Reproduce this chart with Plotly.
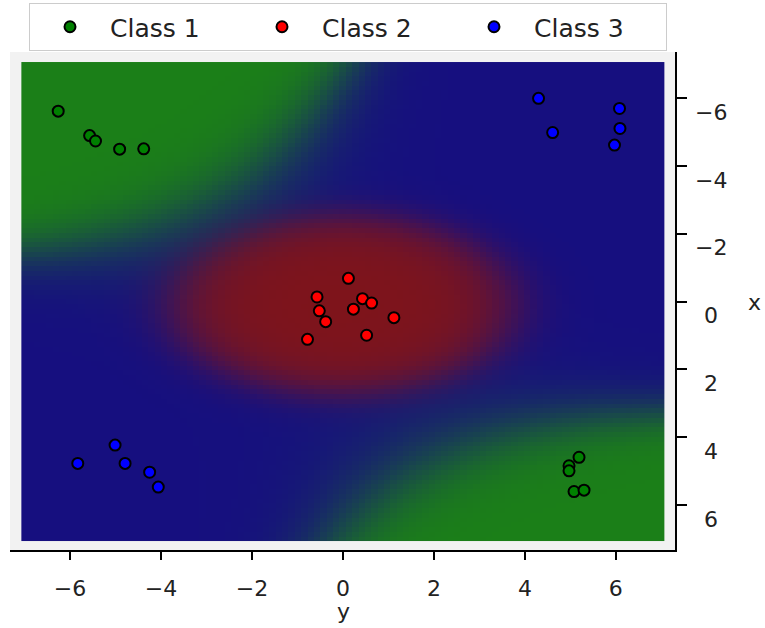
import numpy as np
import plotly.graph_objects as go

# ---- data (horizontal axis "y", vertical axis "x") ----
class1_h = [-6.26, -5.57, -5.44, -4.91, -4.38, 5.19, 4.97, 4.97, 5.08, 5.30]
class1_v = [-5.62, -4.90, -4.74, -4.50, -4.51, 4.59, 4.84, 4.99, 5.60, 5.56]
class2_h = [0.12, -0.57, -0.52, -0.38, -0.78, 0.43, 0.63, 0.23, 1.12, 0.52]
class2_v = [-0.69, -0.14, 0.27, 0.59, 1.11, -0.09, 0.04, 0.22, 0.47, 0.99]
class3_h = [4.30, 4.61, 6.08, 6.09, 5.97, -5.01, -5.83, -4.79, -4.25, -4.06]
class3_v = [-6.00, -4.99, -5.70, -5.11, -4.62, 4.23, 4.77, 4.77, 5.03, 5.47]

class_names = ["Class 1", "Class 2", "Class 3"]
tick_vals = [-6, -4, -2, 0, 2, 4, 6]
tick_text = ["\u22126", "\u22124", "\u22122", "0", "2", "4", "6"]

# decision-surface score coefficients, relative to Class 3
# green: const, h, v, h^2, v^2, h*v
green_score = [-3.55, -0.31, 0.0, -0.035, 0.081, 0.29]
# red: const, centre h, centre v, h curvature, v curvature
red_score = [3.9, 0.0, 0.1, 0.30, 0.60]
grid_min, grid_max, grid_n = -7.0, 7.0, 101

col_green = np.array([27, 127, 24])
col_red = np.array([128, 20, 25])
col_blue = np.array([22, 15, 127])

g = np.linspace(grid_min, grid_max, grid_n)
H, V = np.meshgrid(g, g)
sg = (green_score[0] + green_score[1] * H + green_score[2] * V
      + green_score[3] * H ** 2 + green_score[4] * V ** 2 + green_score[5] * H * V)
sr = red_score[0] - red_score[3] * (H - red_score[1]) ** 2 - red_score[4] * (V - red_score[2]) ** 2
sb = np.zeros_like(H)
S = np.stack([sg, sr, sb], axis=-1)
S = S - S.max(axis=-1, keepdims=True)
P = np.exp(S)
P = P / P.sum(axis=-1, keepdims=True)
img = (P[..., 0:1] * col_green + P[..., 1:2] * col_red + P[..., 2:3] * col_blue)
img = np.clip(np.round(img), 0, 255).astype(int).tolist()
step = (grid_max - grid_min) / (grid_n - 1)

FONT = "DejaVu Sans"
W, HGT = 765, 628
ML, MR, MB = 10, 90, 78
PLOT_TOP = 52  # pixel row of top of axes box
paper_h = HGT - MB
dom_top = (paper_h - PLOT_TOP) / paper_h

fig = go.Figure()
fig.add_trace(go.Image(z=img, x0=grid_min, dx=step, y0=grid_min, dy=step,
                       hoverinfo="skip"))

for name, hx, vy, fill in [(class_names[0], class1_h, class1_v, "rgb(0,128,0)"),
                           (class_names[1], class2_h, class2_v, "rgb(255,0,0)"),
                           (class_names[2], class3_h, class3_v, "rgb(0,0,255)")]:
    fig.add_trace(go.Scatter(x=hx, y=vy, mode="markers", name=name,
                             marker=dict(size=11, color=fill,
                                         line=dict(color="black", width=2))))

xr = [-7.32, 7.30]
yr = [7.325, -7.366]
common = dict(showgrid=False, zeroline=False, tickvals=tick_vals)
fig.update_layout(
    width=W, height=HGT,
    margin=dict(l=ML, r=MR, t=0, b=MB),
    paper_bgcolor="white", plot_bgcolor="#f2f2f2",
    font=dict(family=FONT, size=22, color="#222"),
    xaxis=dict(range=xr, autorange=False, scaleanchor=False, ticks="outside", ticklen=8,
               tickwidth=1.5, tickcolor="black", showline=True, linecolor="black",
               linewidth=1.5, ticktext=tick_text, tickfont=dict(size=22),
               ticklabelstandoff=10, **common),
    yaxis=dict(range=yr, autorange=False, scaleanchor=False, side="right",
               domain=[0, dom_top], ticks="outside", ticklen=10,
               tickwidth=1.5, tickcolor="black", showline=True, linecolor="black",
               linewidth=1.5, showticklabels=False, **common),
    xaxis2=dict(range=xr, overlaying="x", side="top", anchor="y", ticks="inside",
                ticklen=10, tickwidth=1.2, tickcolor="#cfcfcf", showticklabels=False,
                showline=False, **common),
    yaxis2=dict(range=yr, overlaying="y", side="left", anchor="x", ticks="inside",
                ticklen=10, tickwidth=1.2, tickcolor="#cfcfcf", showticklabels=False,
                showline=False, **common),
    xaxis3=dict(range=xr, overlaying="x", side="bottom", anchor="y", ticks="inside",
                ticklen=5, tickwidth=1.5, tickcolor="black", showticklabels=False,
                showline=False, **common),
    yaxis3=dict(range=yr, overlaying="y", side="right", anchor="x", ticks="inside",
                ticklen=6, tickwidth=1.5, tickcolor="black", showticklabels=False,
                showline=False, **common),
    legend=dict(orientation="h", x=(29 - ML) / (W - ML - MR), xanchor="left",
                y=(paper_h - 3) / paper_h, yanchor="top",
                bgcolor="white", bordercolor="#cccccc", borderwidth=1,
                font=dict(size=25, family=FONT), itemwidth=70, entrywidth=127),
)

for v, t in zip(tick_vals, tick_text):
    fig.add_annotation(x=1.054, xref="paper", y=v, yref="y", text=t, showarrow=False,
                       xanchor="center", yanchor="middle", yshift=-14,
                       font=dict(size=22, family=FONT, color="#222"))
fig.add_annotation(x=0.5008, xref="paper", y=(paper_h - 611) / paper_h, yref="paper",
                   text="y", showarrow=False, xanchor="center", yanchor="middle",
                   font=dict(size=22, family=FONT, color="#222"))
fig.add_annotation(x=1.1203, xref="paper", y=(paper_h - 302.4) / paper_h, yref="paper",
                   text="x", showarrow=False, xanchor="center", yanchor="middle",
                   font=dict(size=22, family=FONT, color="#222"))

fig.write_html("out.html")
